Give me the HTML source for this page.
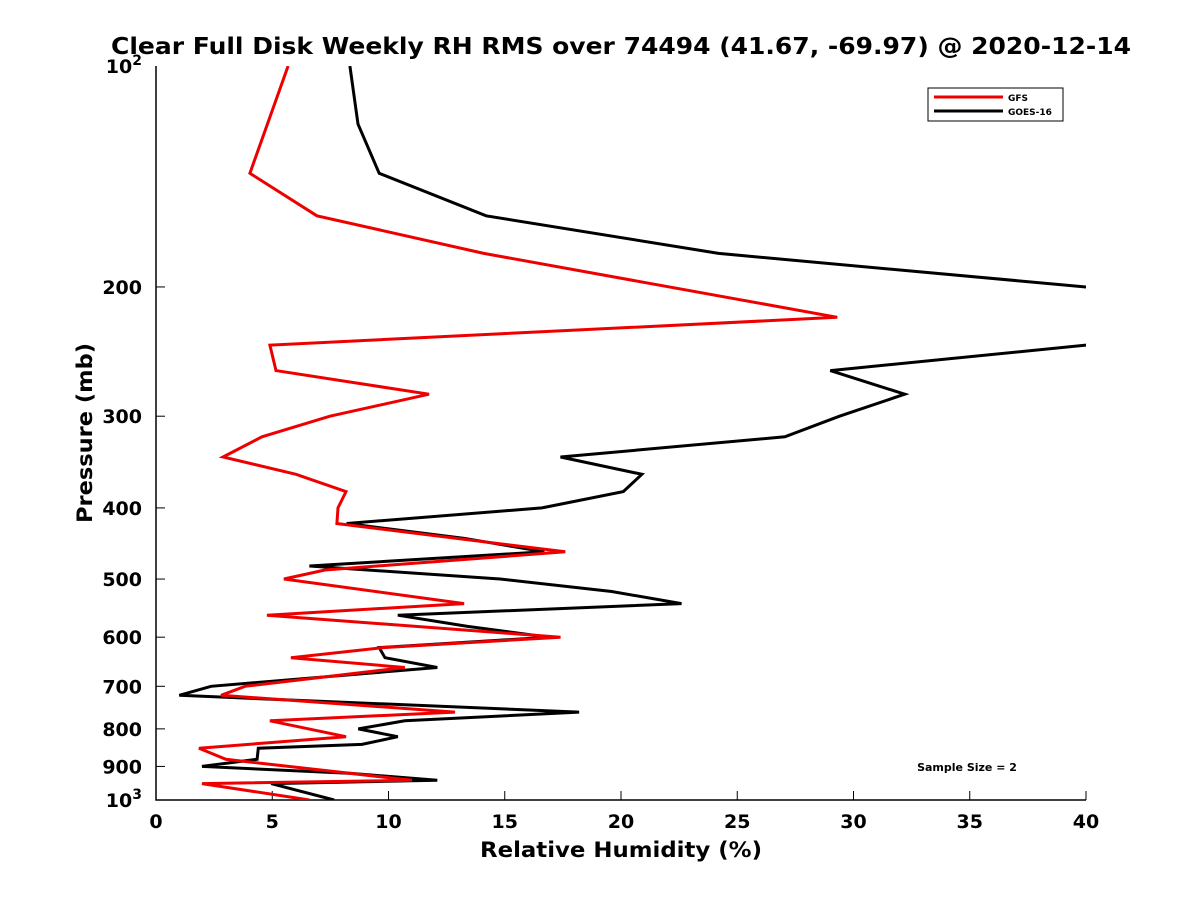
<!DOCTYPE html>
<html><head><meta charset="utf-8"><style>
body{margin:0;background:#fff;}
svg{font-family:"DejaVu Sans","Liberation Sans",sans-serif;font-weight:bold;}
</style></head><body>
<svg id="chart" width="1200" height="900">
<defs><clipPath id="clip"><rect x="156" y="66" width="930" height="734"/></clipPath></defs>
<rect x="0" y="0" width="1200" height="900" fill="#fff"/>
<text x="621" y="54" text-anchor="middle" font-size="23" textLength="1020" lengthAdjust="spacingAndGlyphs">Clear Full Disk Weekly RH RMS over 74494 (41.67, -69.97) @ 2020-12-14</text>
<g id="axes"></g>
<g id="series" clip-path="url(#clip)"></g>
<text x="621" y="857" text-anchor="middle" font-size="21" textLength="282" lengthAdjust="spacingAndGlyphs">Relative Humidity (%)</text>
<text transform="translate(92,433) rotate(-90)" text-anchor="middle" font-size="21" textLength="180" lengthAdjust="spacingAndGlyphs">Pressure (mb)</text>
<g>
<rect x="928" y="88" width="135" height="33" fill="#fff" stroke="#000" stroke-width="1"/>
<line x1="934" y1="97" x2="1003" y2="97" stroke="#e00" stroke-width="3"/>
<text x="1008" y="101" font-size="9">GFS</text>
<line x1="934" y1="111" x2="1003" y2="111" stroke="#000" stroke-width="3"/>
<text x="1008" y="115" font-size="9">GOES-16</text>
</g>
<text x="967" y="771" text-anchor="middle" font-size="11">Sample Size = 2</text>
</svg>
<script>
const gfsP=[100,140,160,180,220,240,260,280,300,320,341,360,380,400,420,459,486,500,540,560,600,620,640,660,700,720,759,780,820,850,880,940,950,1000];
const gfsRH=[5.68,4.04,6.92,14.1,29.3,4.9,5.16,11.74,7.48,4.56,2.88,6.02,8.17,7.83,7.78,17.6,7.27,5.5,13.25,4.77,17.4,9.76,5.8,10.7,3.83,2.8,12.86,4.9,8.17,1.85,3.0,11.0,1.98,6.6];
const goesP=[100,120,140,160,180,200,220,240,260,280,300,320,341,360,380,400,420,440,459,480,500,520,540,560,580,600,620,640,660,700,720,759,780,800,820,840,850,880,900,920,940,950,1000];
const goesRH=[8.34,8.69,9.6,14.2,24.2,40,55,40,29.0,32.2,29.4,27.05,17.4,20.9,20.1,16.6,8.2,13.25,16.7,6.6,14.8,19.6,22.6,10.4,13.4,16.9,9.6,9.85,12.1,2.37,1.0,18.2,10.7,8.7,10.4,8.86,4.4,4.35,1.98,8.4,12.1,4.95,7.66];
const xTicks=[0,5,10,15,20,25,30,35,40];
const yTicks=[200,300,400,500,600,700,800,900];
const L=156,R=1086,T=66,B=800;
const X=v=>L+(v/40)*(R-L);
const Y=p=>T+(Math.log10(p)-2)*(B-T);
const NS="http://www.w3.org/2000/svg";
const axes=document.getElementById('axes'),ser=document.getElementById('series');
function mk(tag,attrs,parent){const e=document.createElementNS(NS,tag);for(const k in attrs)e.setAttribute(k,attrs[k]);parent.appendChild(e);return e;}
let ax=mk('path',{d:`M${L},${T}V${B}H${R}`,fill:'none',stroke:'#000','stroke-width':1.5},axes);


xTicks.forEach(v=>{
 const t=mk('line',{x1:X(v),x2:X(v),y1:B,y2:B-9,stroke:'#000'},axes);
 
 
 const s=mk('text',{x:X(v),y:B+28,'text-anchor':'middle','font-size':19},axes);s.textContent=v;
 
 
});
yTicks.forEach(p=>{
 const t=mk('line',{x1:L,x2:L+9,y1:Y(p),y2:Y(p),stroke:'#000'},axes);
 
 
 const s=mk('text',{x:L-14,y:Y(p)+7,'text-anchor':'end','font-size':19},axes);s.textContent=p;
 
 
});
[[100,'2'],[1000,'3']].forEach(([p,e])=>{
 const s=mk('text',{x:L-14,y:Y(p)+7,'text-anchor':'end','font-size':19},axes);
 s.innerHTML='10<tspan dy="-8" font-size="14">'+e+'</tspan>';
 
 
});
function line(P,V,c,name){
 const d=P.map((p,i)=>(i?'L':'M')+X(V[i]).toFixed(1)+','+Y(p).toFixed(1)).join('');
 const e=mk('path',{d:d,fill:'none',stroke:c,'stroke-width':3,'stroke-linejoin':'miter'},ser);
 
 
}
line(goesP,goesRH,'#000','goes-16-line');
line(gfsP,gfsRH,'#e00','gfs-line');
</script>
</body></html>
